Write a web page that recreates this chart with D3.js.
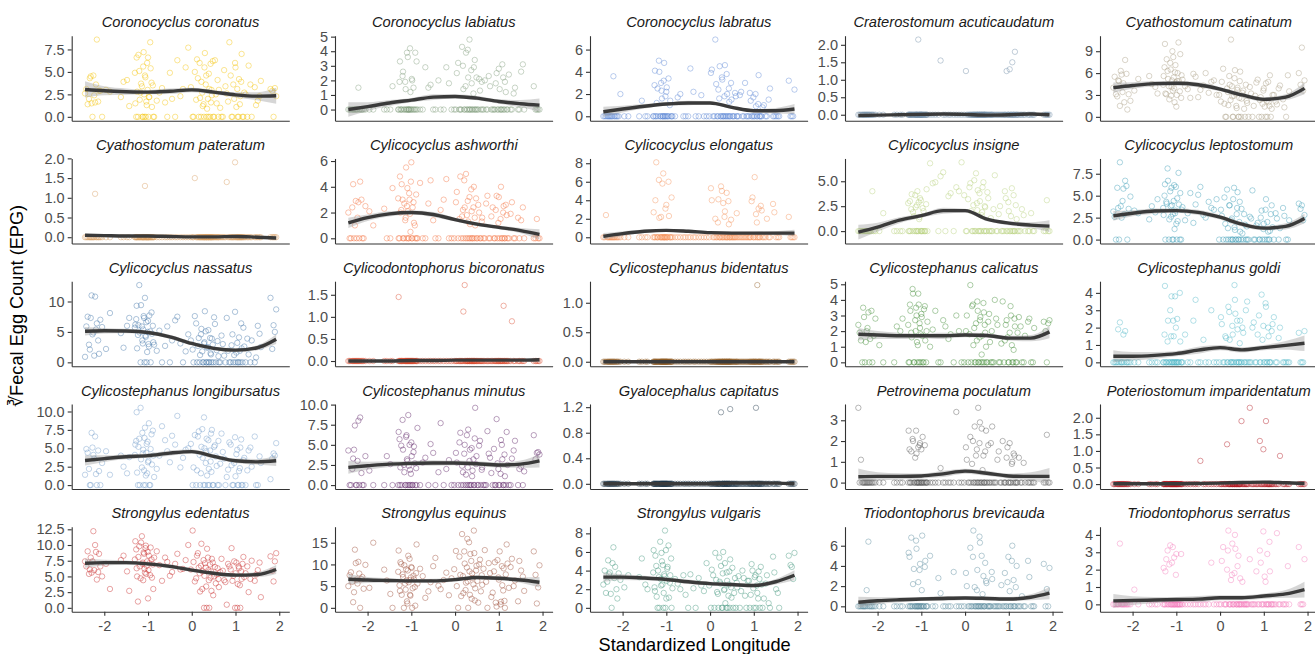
<!DOCTYPE html>
<html>
<head>
<meta charset="utf-8">
<script src="https://d3js.org/d3.v7.min.js"></script>
<style>
body { margin: 0; background: #fff; }
svg { font-family: "Liberation Sans", Arial, sans-serif; }
</style>
</head>
<body>
<svg id="chart" width="1315" height="654"></svg>
<script>

// standardized longitude of every sample (shared by all panels)
var longitude = [
    -2.44, -2.38, -2.33, -2.29, -2.25, -2.21, -2.17, -2.12, -2.05, -1.96, -1.87,
    -1.56, -1.43,
    -1.29, -1.26, -1.23, -1.2, -1.17, -1.14, -1.12, -1.1, -1.07, -1.05, -1.03, -1.0, -0.98, -0.95, -0.92, -0.88,
    -0.8, -0.68, -0.56, -0.45, -0.33, -0.2, -0.08,
    0.02, 0.07, 0.12, 0.16, 0.19, 0.22, 0.25, 0.28, 0.3, 0.33, 0.35, 0.38, 0.4, 0.43, 0.46, 0.49, 0.53, 0.57,
    0.62, 0.68, 0.74, 0.8, 0.86,
    0.91, 0.95, 0.99, 1.02, 1.05, 1.08, 1.11, 1.14, 1.18,
    1.23, 1.3, 1.37, 1.44, 1.51, 1.58,
    1.8, 1.87, 1.93,
    // second batch of samples
    -2.41, -2.35, -2.31, -2.27, -2.23, -2.19, -2.14, -2.09,
    -1.62, -1.48,
    -1.3, -1.27, -1.25, -1.22, -1.19, -1.16, -1.13, -1.11, -1.09, -1.08, -1.06, -1.04, -1.02, -1.01, -0.99, -0.97, -0.94, -0.91, -0.89, -0.86,
    -0.74, -0.61, -0.5, -0.38, -0.26, -0.14,
    -0.02, 0.04, 0.1, 0.14, 0.18, 0.21, 0.24, 0.27, 0.29, 0.32, 0.34, 0.37, 0.39, 0.42, 0.44, 0.45, 0.48, 0.51, 0.55, 0.59, 0.61, 0.65,
    0.71, 0.77, 0.83,
    0.89, 0.93, 0.97, 1.0, 1.04, 1.07, 1.1, 1.13, 1.16, 1.2,
    1.27, 1.34, 1.47, 1.55,
    1.84, 1.9
];

var species = [
    "Coronocyclus coronatus", "Coronocyclus labiatus", "Coronocyclus labratus", "Craterostomum acuticaudatum", "Cyathostomum catinatum",
    "Cyathostomum pateratum", "Cylicocyclus ashworthi", "Cylicocyclus elongatus", "Cylicocyclus insigne", "Cylicocyclus leptostomum",
    "Cylicocyclus nassatus", "Cylicodontophorus bicoronatus", "Cylicostephanus bidentatus", "Cylicostephanus calicatus", "Cylicostephanus goldi",
    "Cylicostephanus longibursatus", "Cylicostephanus minutus", "Gyalocephalus capitatus", "Petrovinema poculatum", "Poteriostomum imparidentatum",
    "Strongylus edentatus", "Strongylus equinus", "Strongylus vulgaris", "Triodontophorus brevicauda", "Triodontophorus serratus"
];

var speciesColors = [
    "#f2c200", "#7e9c7a", "#5a86d4", "#6d8aa4", "#a89a80",
    "#d69a5e", "#f2703f", "#f28e56", "#b4d07a", "#3a9ab5",
    "#3f72a8", "#d9472b", "#8e5a22", "#3e8a32", "#4db6c6",
    "#6d98c8", "#5a1f63", "#1b3344", "#555555", "#b0101a",
    "#c82828", "#9a4a35", "#3f947a", "#55899c", "#f47ab9"
];

// cube root of EPG per sample (same order as longitude)
var coronatus = [2.6, 1.4, 4.3, 1.5, 4.6, 1.6, 8.6, 2.9, 0, 3.0, 2.8,
    3.9, 1.2,
    1.5, 6.6, 0, 5.1, 2.7, 3.4, 0, 7.2, 4.6, 0, 1.3, 6.6, 2.2, 8.3, 3.8, 0,
    1.8, 3.2, 0, 2.0, 6.3, 3.1, 7.7,
    0, 5.0, 6.4, 0, 2.1, 3.9, 1.2, 0, 7.1, 4.6, 0.9, 0, 3.1, 5.9, 2.4, 0, 6.3, 1.5,
    3.0, 0, 5.2, 2.6, 8.3,
    0, 3.6, 6.0, 1.1, 0, 4.2, 2.3, 7.0, 0,
    2.5, 5.7, 0, 3.3, 1.8, 4.0,
    3.1, 0, 2.3,
    3.1, 2.0, 4.5, 0, 2.4, 3.6, 1.7, 2.9,
    2.2, 4.1,
    4.9, 0, 2.8, 6.9, 1.9, 3.7, 0, 5.6, 2.5, 0, 4.4, 1.7, 6.0, 3.0, 0, 2.2, 5.4, 1.1, 3.5, 0,
    2.7, 1.6, 4.9, 0, 2.3, 5.5,
    3.3, 0, 1.9, 4.3, 6.0, 0, 2.7, 1.4, 5.5, 3.6, 0, 2.0, 4.8, 0, 1.6, 3.0, 6.2, 0, 2.5, 4.1, 0, 1.0,
    0, 3.4, 1.7,
    4.6, 0, 2.0, 5.5, 3.1, 0, 1.4, 3.9, 0, 2.7,
    0, 3.6, 1.3, 2.3,
    2.9, 3.2];
var labiatus = [0, 0, 0, 0, 0, 1.5, 0, 0, 0, 0, 0,
    0, 1.6,
    0, 3.3, 0, 2.3, 0, 1.9, 0, 3.9, 0, 0, 4.2, 0, 2.0, 1.5, 0, 3.3,
    0, 2.9, 1.7, 0, 0, 2.9, 0,
    0, 3.2, 0, 4.3, 1.4, 0, 3.9, 0, 2.2, 4.8, 0, 1.8, 0, 2.9, 0, 2.2, 0, 1.3,
    0, 2.0, 0, 1.6, 0,
    0, 2.5, 0, 1.4, 0, 3.1, 0, 1.9, 0,
    2.4, 0, 1.5, 0, 2.6, 0,
    1.6, 0, 0,
    0, 0, 0, 0, 0, 0, 0, 0,
    0, 0,
    0, 1.9, 0, 0, 2.6, 0, 1.4, 0, 0, 3.6, 0, 0, 1.2, 0, 2.1, 0, 0, 3.9, 0, 0,
    0, 1.5, 0, 2.0, 0, 1.8,
    0, 2.5, 0, 0, 3.0, 0, 1.6, 0, 4.1, 0, 0, 2.7, 0, 1.1, 0, 3.4, 0, 0, 2.1, 0, 1.9, 0,
    0, 2.3, 0,
    0, 1.8, 0, 2.8, 0, 0, 2.2, 0, 1.2, 0,
    0, 1.1, 0, 3.1,
    0, 0];
var labratus = [0, 0, 0, 0, 0, 3.6, 0, 0, 2.0, 0, 0,
    1.4, 0,
    0, 4.1, 0, 2.5, 5.0, 0, 3.0, 1.6, 0, 4.8, 0, 2.2, 0, 3.4, 1.0, 0,
    0, 2.0, 0, 4.3, 0, 1.9, 0,
    3.9, 0, 6.9, 0, 2.4, 4.5, 0, 3.3, 0, 1.8, 0, 3.8, 0, 2.5, 0, 1.5, 0, 2.1,
    0, 1.9, 0, 3.0, 0,
    2.1, 0, 1.7, 0, 0.9, 0, 3.7, 0, 0,
    1.0, 0, 2.5, 0, 0, 0,
    3.2, 0, 2.4,
    0, 0, 0, 0, 0, 0, 0, 0,
    0, 0,
    0, 2.8, 0, 1.2, 0, 4.0, 0, 2.3, 0, 0, 3.2, 0, 1.8, 0, 2.6, 0, 0, 1.4, 0, 0,
    1.7, 0, 0, 2.2, 0, 0,
    0, 4.2, 0, 2.9, 0, 1.6, 0, 3.5, 0, 0, 4.6, 0, 2.0, 0, 1.3, 0, 3.0, 0, 0, 1.8, 0, 0,
    2.2, 0, 0,
    0, 1.4, 0, 0, 2.0, 0, 1.1, 0, 0, 0.8,
    0, 1.5, 0, 0,
    0, 0];
var acuticaudatum = [0, 0, 0, 0, 0, 0, 0, 0, 0, 0, 0,
    0, 0,
    0, 0, 0, 0, 0, 0, 0, 0, 2.15, 0, 0, 0, 0, 0, 0, 0,
    0, 0, 1.55, 0, 0, 0, 0,
    1.25, 0, 0, 0, 0, 0, 0, 0, 0, 0, 0, 0, 0, 0, 0, 0, 0, 0,
    0, 0, 0, 0, 0,
    0, 1.25, 0, 1.3, 0, 1.5, 0, 1.8, 0,
    0, 0, 0, 0, 0, 0,
    0, 0, 0,
    0, 0, 0, 0, 0, 0, 0, 0,
    0, 0,
    0, 0, 0, 0, 0, 0, 0, 0, 0, 0, 0, 0, 0, 0, 0, 0, 0, 0, 0, 0,
    0, 0, 0, 0, 0, 0,
    0, 0, 0, 0, 0, 0, 0, 0, 0, 0, 0, 0, 0, 0, 0, 0, 0, 0, 0, 0, 0, 0,
    0, 0, 0,
    0, 0, 0, 0, 0, 0, 0, 0, 0, 0,
    0, 0, 0, 0,
    0, 0];
var catinatum = [4.0, 3.1, 5.0, 1.5, 5.8, 4.6, 7.8, 1.0, 2.2, 3.6, 5.2,
    4.5, 3.2,
    5.6, 10.0, 3.1, 6.3, 4.2, 7.4, 2.9, 5.0, 8.2, 3.9, 6.1, 1.4, 4.9, 10.2, 3.5, 5.7,
    4.2, 2.6, 5.5, 3.7, 6.0, 4.8, 3.0,
    2.1, 6.6, 0, 3.9, 1.6, 4.4, 10.6, 2.8, 0, 5.3, 3.2, 1.2, 4.0, 0, 6.2, 2.5, 3.6, 0,
    1.9, 4.1, 0, 2.9, 5.1,
    2.3, 0, 3.6, 1.4, 4.6, 0, 2.0, 5.7, 1.1,
    3.0, 1.7, 4.3, 2.4, 0, 3.5,
    6.0, 9.5, 5.0,
    5.5, 2.8, 4.9, 6.3, 3.4, 2.0, 5.9, 3.1,
    5.6, 4.1,
    4.4, 6.8, 3.2, 7.9, 5.2, 2.4, 6.5, 4.1, 9.0, 3.6, 5.4, 2.0, 7.1, 4.7, 3.0, 6.0, 4.9, 8.6, 2.6, 5.1,
    3.8, 5.9, 2.7, 4.3, 3.3, 5.0,
    3.0, 4.8, 1.8, 0, 3.4, 5.6, 2.3, 4.2, 0, 2.9, 6.4, 1.5, 3.7, 0, 2.6, 4.9, 0, 3.3, 1.1, 4.4, 2.2, 0,
    3.2, 1.5, 4.7,
    0, 2.7, 1.8, 3.9, 0, 2.2, 4.8, 1.5, 0, 3.0,
    2.1, 3.9, 1.3, 5.7,
    4.4, 3.6];
var pateratum = [0, 0, 0, 0, 0, 1.1, 0, 0, 0, 0, 0,
    0, 0,
    0, 0, 0, 0, 0, 0, 0, 0, 1.3, 0, 0, 0, 0, 0, 0, 0,
    0, 0, 0, 0, 0, 0, 0,
    0, 1.5, 0, 0, 0, 0, 0, 0, 0, 0, 0, 0, 0, 0, 0, 0, 0, 0,
    0, 0, 0, 1.4, 0,
    0, 0, 1.9, 0, 0, 0, 0, 0, 0,
    0, 0, 0, 0, 0, 0,
    0, 0, 0,
    0, 0, 0, 0, 0, 0, 0, 0,
    0, 0,
    0, 0, 0, 0, 0, 0, 0, 0, 0, 0, 0, 0, 0, 0, 0, 0, 0, 0, 0, 0,
    0, 0, 0, 0, 0, 0,
    0, 0, 0, 0, 0, 0, 0, 0, 0, 0, 0, 0, 0, 0, 0, 0, 0, 0, 0, 0, 0, 0,
    0, 0, 0,
    0, 0, 0, 0, 0, 0, 0, 0, 0, 0,
    0, 0, 0, 0,
    0, 0];
var ashworthi = [2.0, 0, 4.2, 1.0, 0, 2.8, 4.4, 0, 2.5, 2.1, 1.0,
    0, 3.9,
    0, 4.8, 2.2, 3.0, 0, 1.4, 5.5, 2.5, 0, 3.5, 1.9, 5.9, 0, 2.8, 1.0, 0,
    4.3, 0, 4.5, 0, 2.2, 4.6, 0,
    2.8, 0, 4.8, 1.7, 0, 2.4, 5.0, 0, 1.3, 3.2, 0, 2.1, 0, 4.0, 1.0, 0, 2.6, 0,
    1.6, 0, 3.3, 0, 2.4,
    0, 3.3, 1.2, 0, 4.0, 0, 2.5, 0, 1.8,
    0, 2.8, 0, 1.6, 1.4, 0,
    0, 1.5, 0,
    0, 2.4, 0, 2.9, 1.6, 0, 3.0, 0,
    2.3, 0,
    3.1, 0, 2.0, 4.2, 0, 2.7, 1.6, 0, 3.9, 2.1, 0, 3.0, 0.5, 4.4, 0, 2.4, 1.2, 0, 3.4, 0,
    0, 2.7, 1.4, 0, 3.0, 0,
    0, 3.6, 1.5, 0, 2.2, 4.5, 0, 1.8, 2.9, 0, 1.1, 3.8, 0, 2.4, 0, 1.6, 3.1, 0, 2.0, 0, 1.3, 0,
    2.7, 0, 1.7,
    0, 2.2, 0, 3.2, 1.5, 0, 2.0, 0, 2.6, 0,
    1.9, 0, 0, 2.4,
    0, 0];
var elongatus = [0, 2.4, 0, 0, 0, 0, 0, 0, 0, 0, 0,
    0, 0,
    2.7, 0, 8.1, 0, 6.2, 0, 2.2, 0, 6.9, 0, 0, 3.5, 0, 6.0, 0, 4.3,
    0, 0, 0, 0, 0, 0, 0,
    5.3, 0, 2.0, 0, 4.1, 0, 5.5, 0, 3.7, 2.2, 0, 4.8, 0, 1.4, 0, 0, 0, 0,
    0, 0, 0, 0, 0,
    0, 3.9, 0, 6.5, 2.5, 0, 3.1, 0, 2.9,
    0, 2.0, 0, 3.6, 0, 0,
    2.2, 0, 0,
    0, 0, 0, 0, 0, 0, 0, 0,
    0, 0,
    0, 0, 4.0, 0, 0, 2.1, 0, 0, 5.8, 0, 0, 0, 3.1, 0, 0, 0, 2.3, 0, 0, 0,
    0, 0, 0, 0, 0, 0,
    0, 4.0, 0, 0, 1.6, 0, 0, 5.0, 0, 0, 2.8, 0, 0, 3.9, 0, 0, 1.9, 0, 0, 0, 2.6, 0,
    0, 0, 0,
    0, 0, 4.3, 0, 0, 1.6, 0, 0, 3.4, 0,
    0, 0, 2.7, 0,
    0, 0];
var insigne = [0, 0, 0, 0, 0, 0, 0, 4.0, 0, 0, 1.8,
    0, 0,
    0, 3.0, 2.2, 0, 1.5, 3.6, 0, 2.6, 0, 1.2, 3.3, 0, 0, 2.0, 0, 4.2,
    6.8, 4.9, 5.5, 0, 3.8, 4.4, 6.9,
    0, 3.2, 4.8, 0, 2.6, 0, 5.8, 2.1, 0, 3.8, 0, 1.6, 4.4, 0, 2.4, 0, 3.3, 0,
    0, 5.6, 0, 2.5, 0,
    4.0, 0, 2.9, 0, 1.5, 0, 3.6, 0, 1.2,
    0, 2.2, 0, 0, 1.8, 0,
    0, 3.1, 0,
    0, 0, 0, 0, 0, 0, 0, 0,
    0, 0,
    2.8, 0, 0, 3.7, 1.9, 0, 2.4, 0, 4.0, 0, 2.9, 1.4, 0, 3.1, 0, 2.3, 0, 0, 2.7, 0,
    4.8, 0, 5.9, 3.5, 0, 4.0,
    3.6, 0, 4.4, 2.0, 0, 5.1, 0, 2.8, 4.1, 0, 3.0, 0, 1.9, 4.9, 0, 2.5, 0, 3.9, 0, 1.3, 0, 2.2,
    0, 1.7, 0,
    0, 3.3, 0, 2.0, 0, 4.3, 0, 0, 2.6, 0,
    0, 1.6, 0, 0,
    0, 0];
var leptostomum = [3.2, 0, 3.6, 8.8, 2.5, 5.8, 6.7, 0, 4.9, 3.3, 3.0,
    3.8, 4.6,
    2.8, 6.3, 4.3, 8.1, 0, 5.5, 2.6, 3.9, 0, 6.2, 3.0, 1.8, 4.7, 7.6, 0, 3.4,
    2.2, 5.3, 4.0, 6.0, 2.5, 3.6, 4.6,
    3.4, 0, 1.8, 5.7, 0, 3.9, 2.2, 0, 4.6, 1.4, 0, 2.9, 5.4, 0, 0.9, 3.5, 0, 1.7,
    0, 2.6, 5.6, 0, 1.9,
    0, 3.3, 1.2, 0, 4.6, 2.0, 0, 1.0, 3.9,
    0, 2.4, 1.3, 3.6, 0, 2.2,
    4.1, 3.9, 2.8,
    2.6, 5.9, 0, 3.8, 4.4, 2.9, 6.1, 3.5,
    2.3, 3.1,
    3.6, 5.0, 0, 4.1, 6.7, 2.3, 3.8, 5.9, 0, 2.9, 4.4, 1.2, 3.3, 6.0, 0, 2.1, 4.0, 5.3, 0, 3.7,
    3.0, 1.9, 5.1, 2.8, 4.3, 3.4,
    0, 2.7, 4.8, 0, 1.3, 3.9, 0, 2.4, 0, 5.9, 1.1, 0, 3.6, 0, 2.0, 4.3, 0, 0.7, 2.9, 0, 1.5, 0,
    2.4, 0, 1.6,
    0, 2.5, 0, 1.8, 3.4, 0, 0.9, 0, 2.9, 1.4,
    3.0, 0, 2.7, 0,
    3.5, 2.2];
var nassatus = [0.9, 7.5, 2.1, 11.0, 4.9, 10.8, 6.4, 1.4, 5.8, 2.2, 8.1,
    2.4, 7.3,
    6.2, 9.3, 4.5, 12.7, 0, 5.9, 3.1, 7.6, 10.6, 4.2, 0, 6.8, 2.6, 5.1, 8.2, 3.3,
    1.9, 0, 5.9, 3.6, 7.5, 0, 4.6,
    2.1, 7.6, 0, 4.0, 1.2, 5.5, 0, 3.1, 8.4, 0, 2.4, 5.3, 0, 1.5, 3.9, 0, 6.3, 2.0,
    0, 4.4, 1.1, 7.3, 0,
    2.8, 0, 8.3, 1.6, 0, 4.1, 0, 2.3, 5.7,
    0, 1.3, 3.6, 0, 6.0, 2.5,
    10.6, 6.1, 8.7,
    5.9, 2.9, 7.3, 4.6, 1.1, 5.4, 3.6, 7.0,
    4.8, 6.0,
    5.7, 7.1, 2.3, 6.1, 4.9, 9.4, 3.6, 5.4, 7.3, 0, 4.4, 6.6, 1.7, 5.0, 3.0, 7.7, 0, 4.7, 6.0, 2.9,
    5.2, 2.7, 0, 6.9, 3.1, 1.8,
    3.6, 0, 6.4, 2.7, 0, 4.6, 1.8, 0, 3.3, 5.1, 0, 2.5, 0, 4.0, 1.3, 0, 2.9, 7.4, 0, 3.5, 1.0, 0,
    3.0, 0, 1.9,
    0, 4.6, 1.2, 0, 3.2, 0, 1.9, 6.4, 0, 2.6,
    3.9, 0, 0.8, 4.7,
    2.2, 5.0];
var bicoronatus = [0, 0, 0, 0, 0, 0, 0, 0, 0, 0, 0,
    0, 0,
    1.45, 0, 0, 0, 0, 0, 0, 0, 0, 0, 0, 0, 0, 0, 0, 0,
    0, 0, 0, 0, 0, 0, 0,
    0, 0, 0, 0, 1.12, 1.72, 0, 0, 0, 0, 0, 0, 0, 0, 0, 0, 0, 0,
    0, 0, 0, 0, 0,
    0, 0, 0, 0, 0, 0, 1.25, 0, 0,
    0, 0.9, 0, 0, 0, 0,
    0, 0, 0,
    0, 0, 0, 0, 0, 0, 0, 0,
    0, 0,
    0, 0, 0, 0, 0, 0, 0, 0, 0, 0, 0, 0, 0, 0, 0, 0, 0, 0, 0, 0,
    0, 0, 0, 0, 0, 0,
    0, 0, 0, 0, 0, 0, 0, 0, 0, 0, 0, 0, 0, 0, 0, 0, 0, 0, 0, 0, 0, 0,
    0, 0, 0,
    0, 0, 0, 0, 0, 0, 0, 0, 0, 0,
    0, 0, 0, 0,
    0, 0];
var bidentatus = [0, 0, 0, 0, 0, 0, 0, 0, 0, 0, 0,
    0, 0,
    0, 0, 0, 0, 0, 0, 0, 0, 0, 0, 0, 0, 0, 0, 0, 0,
    0, 0, 0, 0, 0, 0, 0,
    0, 0, 0, 0, 0, 0, 0, 0, 0, 0, 0, 0, 0, 0, 0, 0, 0, 0,
    0, 0, 0, 0, 0,
    0, 0, 0, 0, 0, 1.3, 0, 0, 0,
    0, 0, 0, 0, 0, 0,
    0, 0, 0,
    0, 0, 0, 0, 0, 0, 0, 0,
    0, 0,
    0, 0, 0, 0, 0, 0, 0, 0, 0, 0, 0, 0, 0, 0, 0, 0, 0, 0, 0, 0,
    0, 0, 0, 0, 0, 0,
    0, 0, 0, 0, 0, 0, 0, 0, 0, 0, 0, 0, 0, 0, 0, 0, 0, 0, 0, 0, 0, 0,
    0, 0, 0,
    0, 0, 0, 0, 0, 0, 0, 0, 0, 0,
    0, 0, 0, 0,
    0, 0];
var calicatus = [2.4, 1.4, 3.5, 0, 2.0, 3.2, 1.5, 0, 2.8, 1.1, 0,
    2.3, 2.8,
    0, 3.7, 1.9, 4.7, 0, 2.7, 3.5, 1.3, 4.4, 0, 2.2, 3.1, 1.7, 0, 3.6, 2.0,
    1.0, 3.3, 0, 2.3, 1.8, 3.0, 0,
    2.0, 0, 4.95, 3.6, 1.1, 0, 2.5, 3.9, 0, 1.6, 2.9, 0.5, 0, 3.2, 1.9, 0, 2.6, 1.3,
    0, 4.0, 2.4, 0, 3.9,
    1.4, 2.7, 0, 1.9, 3.0, 0, 0.8, 2.3, 0,
    2.9, 0, 1.7, 2.6, 0, 2.2,
    2.6, 0, 2.7,
    1.9, 0, 2.9, 1.3, 2.2, 0, 3.3, 1.7,
    0, 2.0,
    2.4, 0, 3.3, 1.6, 4.4, 0, 2.0, 3.0, 0, 1.1, 3.7, 2.5, 0, 1.8, 2.9, 0, 3.4, 1.4, 0, 2.6,
    2.1, 0, 2.7, 1.5, 0, 2.0,
    0, 3.0, 1.8, 0, 3.7, 2.2, 0, 1.4, 3.3, 0, 2.7, 0, 1.7, 3.8, 0, 2.4, 1.0, 0, 3.1, 0, 2.0, 0,
    2.8, 0, 1.2,
    0, 2.4, 1.6, 0, 3.6, 1.1, 0, 2.8, 0, 1.9,
    2.3, 0, 2.8, 0,
    2.0, 2.5];
var goldi = [0, 0, 1.9, 2.3, 0, 1.6, 1.8, 0, 0, 0, 0,
    0, 0,
    0, 4.4, 0, 1.2, 0, 3.0, 1.5, 0, 2.4, 0, 3.8, 0, 2.5, 0, 4.0, 0,
    1.6, 0, 3.6, 0, 0, 3.0, 0,
    2.6, 0, 1.5, 0, 3.2, 1.3, 0, 2.1, 0, 4.45, 2.8, 0, 1.9, 0, 2.4, 0, 1.7, 0,
    3.5, 0, 2.0, 0, 1.6,
    0, 3.9, 2.1, 0, 3.2, 0, 1.5, 0, 1.8,
    2.6, 0, 2.0, 0, 0, 0,
    1.7, 0, 1.8,
    0, 0, 0, 0, 0, 0, 0, 0,
    0, 0,
    0, 1.6, 0, 0, 2.4, 0, 0, 3.8, 0, 0, 1.5, 0, 0, 2.0, 0, 0, 0, 1.2, 0, 0,
    0, 2.4, 0, 1.3, 0, 0,
    0, 2.2, 0, 1.4, 0, 2.9, 0, 0, 1.6, 0, 3.6, 0, 2.4, 0, 0, 1.1, 0, 2.0, 0, 3.0, 0, 0,
    0, 2.3, 0,
    2.7, 0, 1.3, 0, 3.4, 0, 2.0, 0, 0, 2.2,
    0, 1.4, 0, 0,
    0, 0];
var longibursatus = [1.4, 4.4, 0, 7.1, 4.1, 6.6, 0, 1.9, 3.0, 4.6, 1.4,
    2.5, 3.8,
    5.5, 9.9, 0, 6.3, 10.5, 2.4, 4.3, 0, 7.8, 1.3, 5.6, 3.1, 8.4, 0, 6.9, 4.0,
    2.2, 8.0, 4.6, 6.7, 9.4, 3.7, 5.0,
    0, 6.8, 2.0, 7.3, 0, 5.2, 3.7, 9.2, 0, 4.6, 1.3, 6.1, 0, 3.2, 7.5, 0, 5.4, 2.6,
    0, 7.0, 3.6, 1.1, 5.8,
    2.7, 0, 6.5, 4.2, 0, 1.9, 5.1, 0, 3.4,
    0, 4.7, 2.5, 6.6, 0, 3.0,
    0.8, 4.3, 5.7,
    4.9, 2.2, 0, 5.1, 3.6, 1.5, 4.7, 0,
    4.0, 1.6,
    4.1, 6.0, 1.7, 5.2, 0, 3.5, 7.1, 4.8, 2.0, 6.4, 0, 4.4, 1.6, 5.9, 3.3, 0, 4.9, 2.8, 7.4, 1.1,
    4.0, 6.1, 3.1, 5.5, 2.4, 4.8,
    5.6, 2.4, 0, 6.6, 4.1, 1.6, 7.6, 0, 5.0, 3.0, 6.3, 0, 2.2, 4.7, 7.0, 1.8, 0, 5.2, 3.9, 0, 6.0, 2.9,
    4.5, 0, 2.1,
    5.5, 0, 3.0, 1.2, 4.8, 0, 2.3, 6.2, 0, 3.7,
    2.0, 5.1, 0, 3.9,
    3.6, 4.0];
var minutus = [4.3, 0, 3.3, 7.4, 0, 8.0, 8.4, 0, 3.6, 1.8, 0,
    3.6, 0,
    6.6, 0, 4.9, 8.1, 2.5, 0, 6.0, 3.2, 8.7, 0, 1.9, 5.3, 0, 4.1, 2.7, 0,
    0, 3.4, 5.1, 0, 7.7, 2.0, 0,
    4.0, 0, 6.5, 2.4, 0, 5.0, 1.3, 0, 6.9, 3.0, 0, 4.6, 1.8, 0, 9.6, 3.6, 0, 5.5,
    2.2, 0, 6.7, 3.4, 0,
    0, 8.2, 2.0, 0, 5.6, 3.2, 0, 1.1, 6.6,
    0, 3.3, 5.5, 0, 2.3, 1.7,
    6.2, 4.0, 3.8,
    0, 2.0, 4.4, 0, 3.0, 0, 1.5, 0,
    0, 2.6,
    0, 5.7, 2.2, 0, 4.4, 1.6, 0, 6.2, 3.0, 0, 2.4, 5.0, 0, 1.4, 3.6, 0, 4.8, 0, 2.1, 7.1,
    2.8, 0, 4.0, 1.6, 0, 3.1,
    0, 2.8, 5.3, 0, 1.6, 3.9, 0, 6.2, 2.2, 0, 4.4, 0, 1.1, 3.2, 0, 5.8, 2.6, 0, 4.9, 0, 1.9, 0,
    0, 3.9, 1.5,
    4.5, 0, 2.7, 0, 1.4, 5.0, 0, 3.8, 0, 2.5,
    0, 4.3, 2.0, 0,
    3.2, 4.1];
var capitatus = [0, 0, 0, 0, 0, 0, 0, 0, 0, 0, 0,
    0, 0,
    0, 0, 0, 0, 0, 0, 0, 0, 0, 0, 0, 0, 0, 0, 0, 0,
    0, 0, 0, 0, 0, 0, 0,
    0, 0, 0, 0, 0, 0, 1.12, 0, 0, 0, 0, 0, 0, 0, 1.17, 0, 0, 0,
    0, 0, 0, 0, 0,
    0, 0, 0, 0, 1.19, 0, 0, 0, 0,
    0, 0, 0, 0, 0, 0,
    0, 0, 0,
    0, 0, 0, 0, 0, 0, 0, 0,
    0, 0,
    0, 0, 0, 0, 0, 0, 0, 0, 0, 0, 0, 0, 0, 0, 0, 0, 0, 0, 0, 0,
    0, 0, 0, 0, 0, 0,
    0, 0, 0, 0, 0, 0, 0, 0, 0, 0, 0, 0, 0, 0, 0, 0, 0, 0, 0, 0, 0, 0,
    0, 0, 0,
    0, 0, 0, 0, 0, 0, 0, 0, 0, 0,
    0, 0, 0, 0,
    0, 0];
var poculatum = [3.6, 1.1, 0, 0, 0, 0, 0, 0, 0, 0, 0,
    0, 0,
    2.5, 0, 1.5, 2.1, 0, 1.2, 2.5, 0, 1.7, 0, 1.9, 1.6, 0, 0, 1.8, 0,
    0, 0, 0.7, 0, 0, 3.4, 0,
    1.7, 0, 2.2, 0.9, 0, 2.7, 1.3, 0, 3.6, 1.9, 0, 2.6, 0.6, 0, 1.5, 0, 1.8, 0,
    2.7, 0, 1.1, 0, 2.0,
    0, 1.2, 0, 1.9, 0, 1.0, 1.4, 0, 0,
    1.2, 0, 0, 0, 0, 0,
    0, 2.3, 0,
    0, 0, 0, 0, 0, 0, 0, 0,
    0, 0,
    0, 1.6, 0, 0, 2.0, 0, 0, 1.4, 0, 0, 0, 1.8, 0, 0, 0, 2.2, 0, 0, 0, 0,
    0, 0, 0, 0, 0, 0,
    0, 1.1, 0, 0, 2.0, 0, 0, 1.6, 0, 0, 2.9, 0, 0, 1.3, 0, 0, 2.5, 0, 0, 1.9, 0, 0,
    0, 1.5, 0,
    0, 0, 1.7, 0, 0, 0.9, 0, 1.3, 0, 0,
    0, 0.95, 0, 0,
    0, 0];
var imparidentatum = [0, 0, 0, 0, 0, 0, 0, 0, 0, 0, 0,
    0, 0,
    0, 0, 0, 0, 0, 0, 0, 0, 0, 0, 0, 0, 0, 0, 0, 0,
    0, 0, 0, 0.7, 0, 0, 0,
    0, 0, 0, 1.2, 0, 0, 0, 0, 0, 0, 0, 0, 0, 0, 0, 1.9, 0, 0,
    0, 2.3, 0, 0, 0,
    1.3, 0, 1.05, 0, 1.9, 0, 0, 0, 0,
    0, 0, 0.85, 0, 0, 0,
    0, 0, 0,
    0, 0, 0, 0, 0, 0, 0, 0,
    0, 0,
    0, 0, 0, 0, 0, 0, 0, 0, 0, 0, 0, 0, 0, 0, 0, 0, 0, 0, 0, 0,
    0, 0, 0, 0, 0, 0,
    0, 0, 0, 0, 0, 0, 0, 0, 0, 0, 0, 0, 0, 0, 0, 0, 0, 0, 0, 0, 0, 0,
    0, 0, 0,
    0, 0, 0, 0, 0, 0, 0, 0, 0, 0,
    0, 0, 0, 0,
    0, 0];
var edentatus = [7.4, 9.0, 6.1, 5.6, 12.2, 10.0, 4.5, 8.6, 5.0, 7.0, 3.0,
    8.3, 2.7,
    10.6, 6.3, 1.0, 9.8, 4.7, 11.4, 7.2, 8.8, 5.6, 9.9, 6.7, 1.5, 8.3, 5.2, 7.7, 3.0,
    9.0, 4.3, 7.3, 5.7, 8.6, 6.2, 10.0,
    12.3, 4.2, 8.3, 6.4, 2.6, 10.2, 5.8, 0, 7.1, 3.4, 9.4, 6.0, 0, 4.8, 7.8, 2.0, 6.5, 5.3,
    3.3, 7.8, 4.4, 0.5, 6.6,
    9.5, 5.1, 0, 7.2, 3.8, 6.3, 0, 4.6, 8.1,
    5.5, 2.5, 7.5, 4.3, 6.0, 1.7,
    8.2, 4.2, 8.7,
    6.6, 5.4, 8.0, 7.4, 6.0, 8.9, 5.7, 6.6,
    7.6, 5.8,
    7.7, 9.3, 5.0, 8.1, 6.6, 10.4, 7.0, 4.4, 8.6, 6.2, 9.5, 5.4, 7.4, 8.9, 6.0, 7.1, 9.6, 4.8, 6.9, 8.0,
    6.8, 8.0, 5.1, 7.0, 6.1, 7.6,
    6.1, 7.3, 4.7, 8.7, 5.5, 6.7, 3.0, 7.6, 5.1, 6.4, 0, 8.0, 4.4, 6.9, 5.8, 2.7, 7.2, 5.0, 3.9, 6.3, 4.6, 5.7,
    5.9, 4.1, 7.0,
    6.1, 4.3, 7.4, 5.5, 0, 6.6, 3.6, 5.8, 7.0, 4.9,
    6.6, 4.6, 5.3, 7.2,
    5.9, 7.4];
var equinus = [5.0, 8.2, 1.3, 13.4, 6.5, 10.6, 0, 7.1, 9.9, 4.6, 15.0,
    6.3, 0,
    13.2, 3.9, 10.1, 7.7, 0, 5.6, 8.9, 1.5, 12.0, 6.4, 3.0, 9.4, 0, 7.4, 4.8, 14.6,
    9.0, 2.3, 5.9, 11.5, 4.3, 8.1, 6.8,
    13.1, 0, 7.6, 17.0, 3.4, 10.2, 5.8, 15.9, 0, 8.4, 12.4, 2.1, 6.9, 17.8, 4.5, 9.7, 1.2, 11.1,
    5.3, 13.3, 0, 8.0, 3.5,
    10.5, 0.3, 7.0, 13.0, 1.4, 5.2, 9.1, 0, 14.6,
    4.6, 11.3, 6.3, 1.5, 8.6, 3.9,
    13.0, 1.0, 9.8,
    7.5, 6.0, 3.6, 10.3, 5.6, 7.9, 6.6, 4.4,
    8.8, 3.2,
    8.3, 5.2, 10.5, 3.0, 7.1, 9.8, 4.2, 6.3, 1.0, 8.6, 5.9, 11.3, 2.8, 7.0, 9.2, 4.5, 6.6, 0.5, 8.0, 5.6,
    7.3, 3.8, 9.6, 5.1, 6.4, 2.9,
    8.9, 5.0, 11.8, 2.7, 7.3, 13.0, 4.1, 9.3, 6.1, 15.1, 3.0, 10.8, 7.9, 5.4, 12.6, 1.7, 8.6, 6.2, 10.0, 3.8, 7.5, 9.0,
    6.0, 10.3, 2.5,
    8.4, 1.2, 11.0, 6.5, 0.8, 9.6, 4.0, 1.6, 7.7, 10.2,
    9.4, 5.0, 10.8, 7.2,
    7.6, 4.7];
var vulgaris = [2.5, 1.6, 5.1, 3.8, 0, 6.5, 4.4, 1.0, 3.0, 2.2, 3.5,
    5.3, 2.0,
    6.2, 1.8, 4.5, 0, 3.3, 7.1, 2.4, 5.0, 0, 3.6, 8.3, 1.0, 4.2, 6.7, 2.7, 0,
    3.1, 2.0, 1.4, 3.6, 0, 2.4, 4.8,
    0, 3.5, 5.9, 1.7, 0, 2.8, 4.5, 0, 6.0, 2.0, 0.5, 3.8, 0, 2.5, 5.2, 1.1, 0, 3.2,
    2.2, 0, 4.0, 1.3, 2.9,
    0, 4.7, 2.1, 3.3, 0, 1.6, 3.9, 0, 2.5,
    1.0, 3.5, 0, 5.5, 2.0, 0,
    5.6, 4.4, 5.9,
    4.0, 2.8, 3.6, 1.5, 4.8, 3.2, 2.0, 3.7,
    3.3, 2.5,
    3.8, 2.2, 5.6, 1.2, 4.0, 0, 3.1, 5.9, 2.5, 4.6, 1.6, 3.4, 0, 6.2, 2.9, 4.4, 1.1, 3.5, 5.3, 2.1,
    2.6, 3.5, 0, 2.1, 3.2, 1.8,
    2.4, 4.1, 0, 3.0, 1.5, 5.4, 2.6, 0, 3.7, 1.9, 4.8, 0, 2.9, 1.3, 3.9, 0, 2.2, 4.3, 1.6, 0, 2.7, 3.4,
    1.8, 3.2, 0,
    2.9, 1.4, 4.0, 0, 3.5, 2.4, 1.0, 3.1, 4.4, 0,
    2.6, 0.5, 3.8, 1.6,
    4.6, 3.1];
var brevicauda = [0, 0, 0, 0, 1.6, 6.4, 0, 0, 0, 0, 0,
    0, 0,
    5.3, 0, 6.8, 0, 3.7, 0, 6.5, 0, 2.4, 0, 4.2, 0, 7.0, 0, 3.9, 0,
    5.0, 0, 1.3, 0, 0, 0, 0,
    3.3, 0, 5.8, 0, 7.5, 1.9, 0, 3.6, 0, 6.9, 0, 5.0, 1.2, 0, 4.3, 2.3, 0, 0,
    2.7, 0, 0, 0, 0,
    3.3, 0, 4.9, 1.5, 0, 6.0, 2.6, 0, 4.0,
    0, 1.0, 0, 4.5, 0, 0,
    4.2, 1.7, 3.8,
    0, 0, 0, 0, 0, 0, 0, 0,
    0, 0,
    0, 4.9, 0, 0, 2.2, 0, 0, 5.7, 0, 0, 0, 3.6, 0, 0, 1.6, 0, 0, 4.5, 0, 0,
    0, 2.8, 0, 0, 3.4, 0,
    0, 2.0, 0, 0, 4.9, 0, 0, 1.6, 0, 0, 6.3, 0, 0, 3.0, 0, 0, 2.5, 0, 0, 0, 3.4, 0,
    0, 0, 2.1,
    0, 0, 2.4, 0, 0, 4.5, 0, 0, 1.9, 0,
    0, 0, 2.9, 0,
    0, 0];
var serratus = [0, 0, 0, 3.5, 0, 0, 0, 0, 0, 0.85, 0,
    0, 0,
    2.1, 0, 2.6, 3.1, 0, 3.4, 0, 2.4, 0, 2.7, 0, 2.9, 0, 0, 0, 0,
    0, 0, 0, 0, 0, 2.4, 0,
    0, 3.3, 0, 2.0, 4.25, 0, 1.4, 3.5, 0, 1.8, 3.2, 0, 2.2, 0, 1.5, 0, 0, 0,
    0, 2.6, 0, 0, 0,
    3.1, 0, 4.2, 1.6, 0, 2.9, 0, 1.9, 0,
    0, 4.1, 0, 0, 0, 0,
    3.3, 0, 2.6,
    0, 0, 0, 0, 0, 0, 0, 0,
    0, 0,
    0, 0, 1.9, 0, 0, 2.3, 0, 0, 0, 3.3, 0, 0, 0, 1.7, 0, 0, 0, 0, 2.9, 0,
    0, 0, 0, 0, 0, 0,
    0, 2.5, 0, 0, 3.1, 0, 0, 1.7, 0, 0, 4.0, 0, 0, 2.8, 0, 0, 0, 1.3, 0, 0, 0, 0,
    0, 0, 1.9,
    0, 2.4, 0, 0, 1.3, 0, 0, 3.6, 0, 0,
    0, 0, 0, 2.2,
    0, 0];

var counts = [coronatus, labiatus, labratus, acuticaudatum, catinatum,
    pateratum, ashworthi, elongatus, insigne, leptostomum,
    nassatus, bicoronatus, bidentatus, calicatus, goldi,
    longibursatus, minutus, capitatus, poculatum, imparidentatum,
    edentatus, equinus, vulgaris, brevicauda, serratus];

// loess fit
var smoothX = [-2.44, -2, -1.5, -1, -0.5, 0, 0.5, 1, 1.5, 1.93];
var smoothFit = [
    [3.05, 2.9, 2.8, 2.75, 2.85, 3.0, 2.75, 2.45, 2.3, 2.35],
    [0.0, 0.2, 0.45, 0.65, 0.85, 0.9, 0.78, 0.55, 0.4, 0.3],
    [0.4, 0.65, 0.9, 1.1, 1.2, 1.2, 0.8, 0.5, 0.5, 0.65],
    [-0.02, -0.01, 0.0, 0.01, 0.02, 0.01, -0.01, 0.0, 0.02, 0.0],
    [4.0, 4.3, 4.55, 4.6, 4.4, 3.8, 3.0, 2.4, 2.7, 3.9],
    [0.05, 0.04, 0.03, 0.03, 0.02, 0.01, 0.01, 0.02, 0.0, -0.02],
    [1.2, 1.6, 1.9, 2.0, 1.85, 1.45, 1.1, 0.85, 0.6, 0.3],
    [0.1, 0.4, 0.65, 0.75, 0.65, 0.5, 0.45, 0.45, 0.45, 0.45],
    [-0.1, 0.4, 1.1, 1.55, 2.05, 2.05, 1.2, 0.8, 0.6, 0.5],
    [2.7, 3.0, 3.25, 3.3, 3.1, 2.55, 1.75, 1.3, 1.5, 2.4],
    [5.1, 5.2, 5.15, 4.9, 4.2, 3.1, 2.3, 2.0, 2.4, 3.8],
    [0.0, 0.0, 0.0, 0.01, 0.01, 0.02, 0.02, 0.02, 0.02, 0.03],
    [0, 0, 0, 0, 0, 0, 0, 0, 0, 0],
    [1.8, 1.75, 1.7, 1.7, 1.7, 1.75, 1.72, 1.55, 1.55, 1.95],
    [0.35, 0.35, 0.4, 0.5, 0.7, 0.85, 0.72, 0.85, 0.98, 1.1],
    [3.35, 3.6, 3.85, 4.0, 4.35, 4.55, 3.9, 3.3, 3.15, 3.3],
    [2.2, 2.4, 2.6, 2.7, 2.75, 2.75, 2.65, 2.5, 2.6, 3.0],
    [0, 0, 0, 0, 0, 0, 0.01, 0.01, 0.01, 0],
    [0.28, 0.3, 0.3, 0.32, 0.42, 0.55, 0.45, 0.32, 0.3, 0.3],
    [0.01, 0.01, 0.01, 0.01, 0.02, 0.03, 0.05, 0.06, 0.04, 0.02],
    [7.1, 7.2, 7.2, 7.0, 6.6, 6.0, 5.5, 5.2, 5.3, 6.1],
    [6.6, 6.4, 6.3, 6.2, 6.2, 6.5, 7.0, 6.8, 6.4, 5.9],
    [3.3, 3.3, 3.2, 3.05, 2.8, 2.6, 2.5, 2.4, 2.8, 3.5],
    [0.4, 0.55, 0.65, 0.72, 0.78, 0.82, 0.78, 0.72, 0.9, 1.3],
    [0.2, 0.22, 0.25, 0.28, 0.3, 0.38, 0.38, 0.48, 0.6, 0.85]
];
var smoothSe = [
    [0.9, 0.5, 0.35, 0.25, 0.3, 0.25, 0.25, 0.3, 0.45, 0.9],
    [0.5, 0.3, 0.2, 0.15, 0.2, 0.15, 0.15, 0.15, 0.25, 0.45],
    [0.45, 0.3, 0.2, 0.15, 0.2, 0.15, 0.15, 0.15, 0.25, 0.45],
    [0.04, 0.03, 0.03, 0.03, 0.03, 0.03, 0.03, 0.03, 0.03, 0.05],
    [0.7, 0.45, 0.35, 0.3, 0.35, 0.3, 0.3, 0.3, 0.4, 0.8],
    [0.04, 0.03, 0.02, 0.02, 0.02, 0.02, 0.02, 0.02, 0.03, 0.04],
    [0.4, 0.25, 0.2, 0.15, 0.2, 0.15, 0.15, 0.15, 0.2, 0.4],
    [0.35, 0.25, 0.2, 0.15, 0.2, 0.15, 0.15, 0.15, 0.2, 0.35],
    [0.75, 0.45, 0.3, 0.2, 0.3, 0.2, 0.2, 0.2, 0.3, 0.6],
    [0.55, 0.35, 0.3, 0.25, 0.3, 0.25, 0.25, 0.25, 0.35, 0.55],
    [0.7, 0.45, 0.35, 0.3, 0.35, 0.3, 0.3, 0.3, 0.4, 0.8],
    [0.03, 0.02, 0.02, 0.02, 0.02, 0.02, 0.02, 0.02, 0.03, 0.04],
    [0.01, 0.01, 0.01, 0.01, 0.01, 0.01, 0.01, 0.01, 0.01, 0.01],
    [0.4, 0.25, 0.2, 0.15, 0.2, 0.15, 0.15, 0.15, 0.2, 0.4],
    [0.35, 0.25, 0.2, 0.15, 0.2, 0.15, 0.15, 0.15, 0.25, 0.45],
    [0.7, 0.45, 0.35, 0.3, 0.35, 0.3, 0.3, 0.3, 0.4, 0.7],
    [0.8, 0.5, 0.35, 0.3, 0.35, 0.3, 0.3, 0.3, 0.45, 0.8],
    [0.02, 0.01, 0.01, 0.01, 0.01, 0.01, 0.01, 0.01, 0.01, 0.02],
    [0.4, 0.2, 0.15, 0.12, 0.15, 0.12, 0.12, 0.12, 0.2, 0.4],
    [0.03, 0.02, 0.02, 0.02, 0.02, 0.02, 0.02, 0.03, 0.03, 0.05],
    [0.7, 0.45, 0.35, 0.3, 0.35, 0.3, 0.3, 0.3, 0.4, 0.7],
    [1.2, 0.7, 0.5, 0.45, 0.5, 0.45, 0.45, 0.45, 0.6, 1.2],
    [0.5, 0.3, 0.25, 0.2, 0.25, 0.2, 0.2, 0.2, 0.3, 0.55],
    [0.55, 0.35, 0.25, 0.2, 0.25, 0.2, 0.2, 0.2, 0.3, 0.6],
    [0.4, 0.25, 0.18, 0.15, 0.18, 0.15, 0.15, 0.15, 0.22, 0.45]
];

var yTicks = [
    [0, 2.5, 5, 7.5], [0, 1, 2, 3, 4, 5], [0, 2, 4, 6], [0, 0.5, 1, 1.5, 2], [0, 3, 6, 9],
    [0, 0.5, 1, 1.5, 2], [0, 2, 4, 6], [0, 2, 4, 6, 8], [0, 2.5, 5], [0, 2.5, 5, 7.5],
    [0, 5, 10], [0, 0.5, 1, 1.5], [0, 0.5, 1], [0, 1, 2, 3, 4, 5], [0, 1, 2, 3, 4],
    [0, 2.5, 5, 7.5, 10], [0, 2.5, 5, 7.5, 10], [0, 0.4, 0.8, 1.2], [0, 1, 2, 3], [0, 0.5, 1, 1.5, 2],
    [0, 2.5, 5, 7.5, 10, 12.5], [0, 5, 10, 15], [0, 2, 4, 6, 8], [0, 2, 4, 6], [0, 1, 2, 3, 4]
];
var xTicks = [-2, -1, 0, 1, 2];


var colLeft = [71.7, 335, 590, 845, 1100];
var panelW = 217.6, panelH = 85, rowTop = 35.7, rowStep = 122.75;

var svg = d3.select("#chart");
var x = d3.scaleLinear().domain([-2.745, 2.23]).range([0, panelW]);

species.forEach(function(name, i) {
    var col = i % 5, row = Math.floor(i / 5);
    var g = svg.append("g")
        .attr("transform", "translate(" + colLeft[col] + "," + (rowTop + row * rowStep) + ")");

    var ys = counts[i];
    var band = smoothX.map(function(sx, k) {
        return {x: sx, fit: smoothFit[i][k], lo: smoothFit[i][k] - smoothSe[i][k], hi: smoothFit[i][k] + smoothSe[i][k]};
    });
    var ymin = Math.min(d3.min(ys), d3.min(band, function(d) { return d.lo; }));
    var ymax = Math.max(d3.max(ys), d3.max(band, function(d) { return d.hi; }));
    var pad = (ymax - ymin) * 0.05;
    var y = d3.scaleLinear().domain([ymin - pad, ymax + pad]).range([panelH, 0]);

    // points
    g.append("g").selectAll("circle")
        .data(ys)
        .enter().append("circle")
        .attr("cx", function(d, k) { return x(longitude[k]); })
        .attr("cy", function(d) { return y(d); })
        .attr("r", 2.7)
        .attr("fill", "none")
        .attr("stroke", speciesColors[i])
        .attr("stroke-opacity", 0.42)
        .attr("stroke-width", 1);

    // confidence band + fit
    var area = d3.area()
        .x(function(d) { return x(d.x); })
        .y0(function(d) { return y(d.lo); })
        .y1(function(d) { return y(d.hi); })
        .curve(d3.curveMonotoneX);
    var line = d3.line()
        .x(function(d) { return x(d.x); })
        .y(function(d) { return y(d.fit); })
        .curve(d3.curveMonotoneX);
    g.append("path").datum(band).attr("d", area)
        .attr("fill", "#999").attr("fill-opacity", 0.4);
    g.append("path").datum(band).attr("d", line)
        .attr("fill", "none").attr("stroke", "#3a3a3a").attr("stroke-width", 3.4);

    // axes
    var dec = yTicks[i].some(function(v) { return v % 1 !== 0; }) ? 1 : 0;
    var yAxis = g.append("g")
        .call(d3.axisLeft(y).tickValues(yTicks[i]).tickSize(4).tickSizeOuter(0).tickPadding(3)
            .tickFormat(d3.format("." + dec + "f")));

    var xAxis = g.append("g").attr("transform", "translate(0," + panelH + ")");
    if (row === 4) {
        xAxis.call(d3.axisBottom(x).tickValues(xTicks).tickSize(4).tickSizeOuter(0).tickPadding(5)
            .tickFormat(function(d) { return String(d); }));
    } else {
        xAxis.call(d3.axisBottom(x).tickValues([]).tickSizeOuter(0));
    }

    [yAxis, xAxis].forEach(function(a) {
        a.select(".domain").attr("stroke", "#333").attr("stroke-width", 1.1);
        a.selectAll(".tick line").attr("stroke", "#333").attr("stroke-width", 1.1);
        a.selectAll(".tick text").attr("fill", "#4d4d4d").style("font-size", "14.5px");
    });

    g.append("text")
        .attr("x", panelW / 2)
        .attr("y", -13.4)
        .attr("text-anchor", "middle")
        .attr("dominant-baseline", "central")
        .style("font-size", "14.7px")
        .style("font-style", "italic")
        .attr("fill", "#1a1a1a")
        .text(name);
});

svg.append("text")
    .attr("x", (colLeft[0] + colLeft[4] + panelW) / 2)
    .attr("y", 645)
    .attr("text-anchor", "middle")
    .attr("dominant-baseline", "central")
    .style("font-size", "18.2px")
    .text("Standardized Longitude");

svg.append("text")
    .attr("transform", "translate(17," + (rowTop + (4 * rowStep + panelH)) / 2 + ") rotate(-90)")
    .attr("text-anchor", "middle")
    .attr("dominant-baseline", "central")
    .style("font-size", "18.2px")
    .text("\u221BFecal Egg Count (EPG)");

</script>
</body>
</html>
